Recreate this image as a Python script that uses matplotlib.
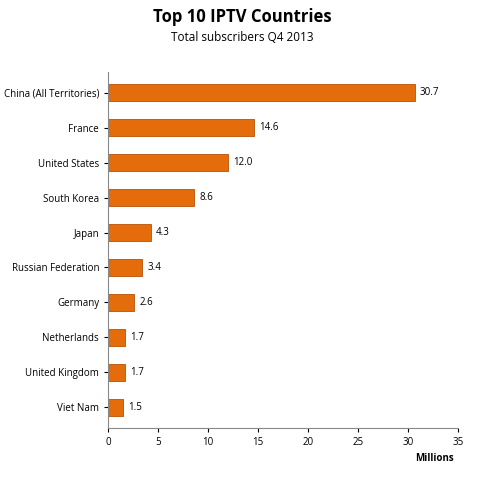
import matplotlib.pyplot as plt
import numpy as np

countries = ["China (All Territories)", "France", "United States", "South Korea", "Japan",
             "Russian Federation", "Germany", "Netherlands", "United Kingdom", "Viet Nam"]
subscribers = [30.7, 14.6, 12.0, 8.6, 4.3, 3.4, 2.6, 1.7, 1.7, 1.5]
xticks = [0, 5, 10, 15, 20, 25, 30, 35]

plt.rcParams['font.family'] = ['Open Sans', 'DejaVu Sans']

fig = plt.figure(figsize=(4.85, 4.78), dpi=100)
ax = fig.add_axes([0.223, 0.104, 0.721, 0.746])

ypos = np.arange(len(countries))
ax.barh(ypos, subscribers, height=0.48, color='#E46C0A', edgecolor='#B5520A', linewidth=0.6)
for y, v in zip(ypos, subscribers):
    ax.text(v + 0.5, y, f"{v:.1f}", va='center', ha='left', fontsize=7)

ax.set_yticks(ypos)
ax.set_yticklabels(countries, fontsize=7)
ax.invert_yaxis()
ax.set_ylim(len(countries) - 0.4, -0.6)
ax.set_xlim(0, 35)
ax.set_xticks(xticks)
ax.tick_params(axis='x', labelsize=7, length=3)
ax.tick_params(axis='y', length=3)
for s in ['top', 'right']:
    ax.spines[s].set_visible(False)
ax.spines['left'].set_color('#888888')
ax.spines['bottom'].set_color('#888888')

fig.text(0.895, 0.036, "Millions", fontsize=7, fontweight='bold', ha='center')
fig.text(0.5, 0.955, "Top 10 IPTV Countries", fontsize=12, fontweight='bold', ha='center')
fig.text(0.5, 0.915, "Total subscribers Q4 2013", fontsize=8.5, ha='center')

fig.savefig('out.png', dpi=100)
